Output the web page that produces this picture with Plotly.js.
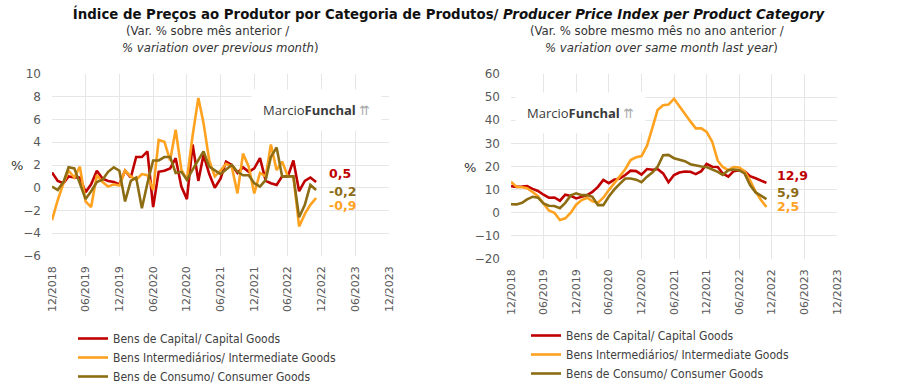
<!DOCTYPE html>
<html>
<head>
<meta charset="utf-8">
<script src="https://cdn.plot.ly/plotly-3.0.1.min.js"></script>
<style>
  html, body { margin: 0; padding: 0; background: #ffffff; }
  #chart { width: 897px; height: 385px; }
</style>
</head>
<body>
<div id="chart"></div>
<script>
// ---------- DATA ----------
const months = [
  '2018-12',
  '2019-01','2019-02','2019-03','2019-04','2019-05','2019-06','2019-07','2019-08','2019-09','2019-10','2019-11','2019-12',
  '2020-01','2020-02','2020-03','2020-04','2020-05','2020-06','2020-07','2020-08','2020-09','2020-10','2020-11','2020-12',
  '2021-01','2021-02','2021-03','2021-04','2021-05','2021-06','2021-07','2021-08','2021-09','2021-10','2021-11','2021-12',
  '2022-01','2022-02','2022-03','2022-04','2022-05','2022-06','2022-07','2022-08','2022-09','2022-10','2022-11'
];

// % variation over previous month
const capitalMoM = [1.35,0.6,0.4,1.0,0.9,0.9,-0.4,0.3,1.5,0.8,0.6,0.5,0.3,1.5,0.9,2.7,2.7,3.2,-1.7,1.4,1.5,1.7,2.6,0.1,-1.0,3.8,0.6,2.9,1.2,0.0,0.8,2.3,2.0,1.3,1.8,1.4,1.7,2.6,0.6,0.4,0.25,1.0,1.0,2.4,-0.3,0.6,0.9,0.5];
const intermMoM  = [-2.85,-1.1,0.4,1.5,0.9,1.85,-1.2,-1.7,1.1,0.5,0.1,0.3,0.2,1.5,1.0,0.7,1.2,1.1,-0.2,4.2,4.05,2.4,5.1,1.6,0.7,4.6,7.9,5.7,2.4,1.0,1.5,2.1,1.85,-0.5,3.0,1.85,-0.5,1.3,1.0,3.8,1.55,2.3,1.0,1.0,-3.4,-2.3,-1.5,-0.9];
const consumMoM  = [0.1,-0.2,0.5,1.8,1.7,0.4,-1.0,-0.3,0.5,0.7,1.4,1.8,1.5,-1.2,0.6,0.9,-1.8,0.4,2.4,2.4,2.7,2.7,1.3,1.4,0.7,1.6,2.4,3.2,1.85,1.55,1.2,1.6,2.0,1.4,1.1,1.1,0.4,0.1,0.7,2.7,3.55,1.0,1.0,1.0,-2.6,-1.5,0.25,-0.2];

// % variation over same month last year
const capitalYoY = [11.5,11.2,11.3,11.5,10.3,9.4,7.8,6.5,6.6,5.2,7.8,7.3,6.2,7.0,7.6,9.0,11.2,14.2,12.8,14.3,14.8,16.3,18.2,18.0,16.5,18.9,18.6,18.9,17.0,13.2,16.3,17.4,17.8,17.7,16.7,18.0,21.1,19.9,19.8,17.0,15.6,18.0,18.4,18.0,15.8,14.9,13.9,12.9];
const intermYoY  = [13.4,11.2,11.0,10.6,9.0,7.2,4.0,1.0,0.0,-3.1,-2.4,0.0,3.5,5.5,6.5,5.0,4.3,6.5,9.8,12.8,15.6,18.8,22.8,24.0,24.5,29.0,37.0,44.4,46.5,46.8,49.3,46.0,42.9,39.5,36.5,36.5,35.0,30.7,22.5,19.8,18.4,19.8,19.6,18.0,14.0,9.1,5.5,2.5];
const consumYoY  = [3.7,3.6,4.3,5.8,6.9,6.5,4.0,3.0,2.9,2.0,4.3,7.5,8.4,7.6,7.7,6.9,3.3,3.3,7.0,10.0,12.5,14.8,14.8,14.3,13.2,15.6,17.5,19.9,24.9,25.0,23.6,23.0,22.3,21.0,20.4,20.0,19.8,18.8,17.7,16.4,18.4,18.7,18.4,17.0,12.0,8.8,7.5,5.9];

const seriesNames = [
  'Bens de Capital/ Capital Goods',
  'Bens Intermediários/ Intermediate Goods',
  'Bens de Consumo/ Consumer Goods'
];
const tickVals = ['2018-12-01','2019-06-01','2019-12-01','2020-06-01','2020-12-01','2021-06-01','2021-12-01','2022-06-01','2022-12-01','2023-06-01','2023-12-01'];
const tickLabels = ['12/2018','06/2019','12/2019','06/2020','12/2020','06/2021','12/2021','06/2022','12/2022','06/2023','12/2023'];
const leftTicks = [-6,-4,-2,0,2,4,6,8,10];
const rightTicks = [-20,-10,0,10,20,30,40,50,60];

// ---------- STYLE ----------
const W = 897, H = 385;
const colors = ['#C00000', '#FFA21F', '#8C6D14'];
const grid = '#e6e6e6';
const tickColor = '#595959';
const px = v => v / W;
const py = v => 1 - v / H;

const leftSets = [capitalMoM, intermMoM, consumMoM];
const rightSets = [capitalYoY, intermYoY, consumYoY];

const traces = [];
leftSets.forEach((ys, i) => traces.push({
  type: 'scatter', mode: 'lines', x: months, y: ys, name: seriesNames[i],
  xaxis: 'x', yaxis: 'y', legend: 'legend',
  line: {color: colors[i], width: 2.6}, hoverinfo: 'skip'
}));
rightSets.forEach((ys, i) => traces.push({
  type: 'scatter', mode: 'lines', x: months, y: ys, name: seriesNames[i],
  xaxis: 'x2', yaxis: 'y2', legend: 'legend2',
  line: {color: colors[i], width: 2.6}, hoverinfo: 'skip'
}));

const fmt = v => v.toFixed(1).replace('.', ',');
const last = months[months.length - 1];
// order: capital, intermediate, consumer
const endShiftL = [9, -7.5, -1.5];
const endShiftR = [7, 0, 7];
const annotations = [];
leftSets.forEach((ys, i) => annotations.push({
  xref: 'x', yref: 'y', x: last, y: ys[ys.length - 1], text: '<b>' + fmt(ys[ys.length - 1]) + '</b>',
  showarrow: false, xanchor: 'left', yanchor: 'middle', xshift: 11, yshift: endShiftL[i],
  font: {family: 'DejaVu Sans', size: 12.5, color: colors[i]}
}));
rightSets.forEach((ys, i) => annotations.push({
  xref: 'x2', yref: 'y2', x: last, y: ys[ys.length - 1], text: '<b>' + fmt(ys[ys.length - 1]) + '</b>',
  showarrow: false, xanchor: 'left', yanchor: 'middle', xshift: 9, yshift: endShiftR[i],
  font: {family: 'DejaVu Sans', size: 12.5, color: colors[i]}
}));

const subFont = {family: 'DejaVu Sans Condensed', size: 13, color: '#333333'};
const note = (x, y, text, font, extra) => Object.assign({
  xref: 'paper', yref: 'paper', x: px(x), y: py(y), text: text, showarrow: false,
  xanchor: 'center', yanchor: 'middle', font: font
}, extra || {});
annotations.push(
  note(207, 30, '(Var. % sobre mês anterior /', subFont),
  note(220, 47, '<i>% variation over previous month</i>)', subFont),
  note(657, 30, '(Var. % sobre mesmo mês no ano anterior /', subFont),
  note(661, 47, '<i>% variation over same month last year</i>)', subFont),
  note(17, 166, '%', {family: 'DejaVu Sans', size: 13, color: '#333333'}),
  note(470, 167, '%', {family: 'DejaVu Sans', size: 13, color: '#333333'}),
  note(316, 110, 'Marcio<b>Funchal</b> <span style="color:#aaaaaa">⇈</span>', {family: 'Open Sans', size: 13, color: '#3a3a3a'},
       {bgcolor: '#ffffff', borderpad: 11}),
  note(580, 113, 'Marcio<b>Funchal</b> <span style="color:#aaaaaa">⇈</span>', {family: 'Open Sans', size: 13, color: '#3a3a3a'},
       {bgcolor: '#ffffff', borderpad: 11})
);

const xBase = {
  type: 'date', range: ['2018-12-01', '2023-12-01'], tickmode: 'array', tickvals: tickVals, ticktext: tickLabels,
  tickangle: -90, showgrid: true, gridcolor: grid, gridwidth: 1, zeroline: false, showline: false, ticks: '',
  tickfont: {family: 'DejaVu Sans', size: 11, color: tickColor}, ticklabelstandoff: 7, fixedrange: true
};
const yBase = {
  showgrid: true, gridcolor: grid, gridwidth: 1, zeroline: false, showline: false, ticks: '',
  tickfont: {family: 'DejaVu Sans', size: 12, color: tickColor}, ticklabelstandoff: 10, fixedrange: true
};
const zeroAxis = {
  type: 'date', range: ['2018-12-01', '2023-12-01'], tickmode: 'array', tickvals: tickVals,
  showticklabels: false, ticks: 'outside', ticklen: 4, tickcolor: '#8c8c8c', tickwidth: 1,
  showline: true, linecolor: '#8c8c8c', linewidth: 1.3, showgrid: false, zeroline: false, anchor: 'free', fixedrange: true
};
const legFont = {family: 'DejaVu Sans Condensed', size: 12, color: '#404040'};

const layout = {
  width: W, height: H,
  margin: {l: 0, r: 0, t: 0, b: 0, autoexpand: false},
  paper_bgcolor: '#ffffff', plot_bgcolor: '#ffffff',
  title: {
    text: '<b>Índice de Preços ao Produtor por Categoria de Produtos/ <i>Producer Price Index per Product Category</i></b>',
    x: 0.5, xanchor: 'center', y: py(14), yref: 'container', yanchor: 'middle', automargin: false,
    font: {family: 'DejaVu Sans Condensed', size: 14.8, color: '#111111'}
  },
  xaxis: Object.assign({}, xBase, {domain: [px(52), px(389)], anchor: 'y'}),
  yaxis: Object.assign({}, yBase, {domain: [py(256), py(74)], range: [-6, 10], tickmode: 'array', tickvals: leftTicks, anchor: 'x'}),
  xaxis2: Object.assign({}, xBase, {domain: [px(511), px(837)], anchor: 'y2'}),
  yaxis2: Object.assign({}, yBase, {domain: [py(259), py(74)], range: [-20, 60], tickmode: 'array', tickvals: rightTicks, anchor: 'x2'}),
  xaxis3: Object.assign({}, zeroAxis, {overlaying: 'x', position: py(188)}),
  xaxis4: Object.assign({}, zeroAxis, {overlaying: 'x2', position: py(213)}),
  showlegend: true,
  legend: {x: px(73), y: py(324), xanchor: 'left', yanchor: 'top', bgcolor: 'rgba(0,0,0,0)', font: legFont, tracegroupgap: 0},
  legend2: {x: px(526), y: py(321), xanchor: 'left', yanchor: 'top', bgcolor: 'rgba(0,0,0,0)', font: legFont, tracegroupgap: 0},
  annotations: annotations
};

Plotly.newPlot('chart', traces, layout, {displayModeBar: false, staticPlot: true});
</script>
</body>
</html>
